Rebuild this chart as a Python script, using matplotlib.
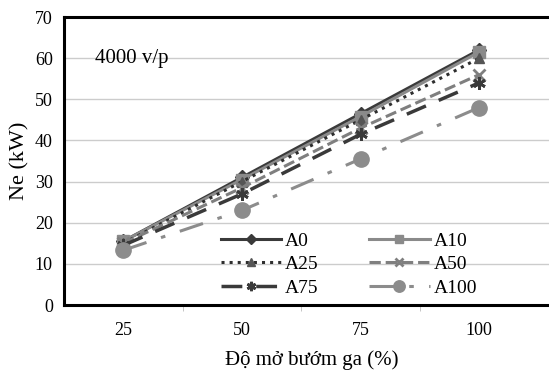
import numpy as np
import matplotlib.pyplot as plt

plt.rcParams['font.family'] = ['Liberation Serif', 'DejaVu Serif']

# du lieu
throttle = ['25', '50', '75', '100']
a0 = [15.5, 31.0, 46.5, 62.0]
a10 = [15.5, 30.5, 45.8, 61.5]
a25 = [15.0, 30.0, 45.0, 60.0]
a50 = [15.0, 28.5, 43.0, 56.0]
a75 = [14.5, 27.0, 41.5, 54.0]
a100 = [13.3, 23.0, 35.5, 48.0]

fig = plt.figure(figsize=(5.49, 3.73), dpi=100)
ax = fig.add_axes([64 / 549, 1 - 305 / 373, 1.02 - 64 / 549, (305 - 17) / 373])

x = np.arange(len(throttle))
h0, = ax.plot(x, a0, '-', color='#3a3a3a', lw=2.2, marker='D', ms=7, label='A0')
h10, = ax.plot(x, a10, '-', color='#8a8a8a', lw=2.2, marker='s', ms=8, label='A10')
h25, = ax.plot(x, a25, ':', color='#2e2e2e', lw=2.2, marker='^', ms=7,
               mfc='#555555', mec='#555555', label='A25')
h50, = ax.plot(x, a50, '--', color='#7f7f7f', lw=2.2, marker='x', ms=8, mew=2, label='A50')
h75, = ax.plot(x, a75, color='#3a3a3a', lw=2.5, dashes=(6, 4), marker=(6, 2, 0), ms=9,
               mew=2, label='A75')
h100, = ax.plot(x, a100, color='#8c8c8c', lw=2.2, dashes=(8, 5, 1.5, 5), marker='o', ms=11,
                label='A100')

ax.set_ylim(0, 70)
ax.set_yticks(range(0, 71, 10))
ax.set_xlim(-0.5, 3.5 + 21 / 116)
ax.set_xticks(x)
ax.set_xticklabels(throttle)
ax.set_xticks([0.5, 1.5, 2.5], minor=True)
ax.tick_params(axis='x', which='major', length=0, pad=12, labelsize=13)
ax.tick_params(axis='x', which='minor', length=4, color='#bbbbbb')
ax.tick_params(axis='y', length=0, pad=8, labelsize=13)
ax.grid(axis='y', color='#cccccc', lw=1)
ax.set_axisbelow(True)
for s in ax.spines.values():
    s.set_linewidth(2.2)
    s.set_color('black')

ax.set_ylabel('Ne (kW)', fontsize=16, labelpad=4)
ax.set_xlabel('Độ mở bướm ga (%)', fontsize=15, labelpad=8)
ax.text(0.063, 0.855, '4000 v/p', transform=ax.transAxes, fontsize=15, va='center')

handles = [h0, h25, h75, h10, h50, h100]
ax.legend(handles=handles, ncol=2, loc='lower left', bbox_to_anchor=(0.285, -0.025),
          frameon=False, fontsize=14, handlelength=3.1, columnspacing=2.6,
          labelspacing=0.3, handletextpad=0.2, borderpad=0.3, markerscale=0.75)

plt.savefig('out.png', dpi=100)
